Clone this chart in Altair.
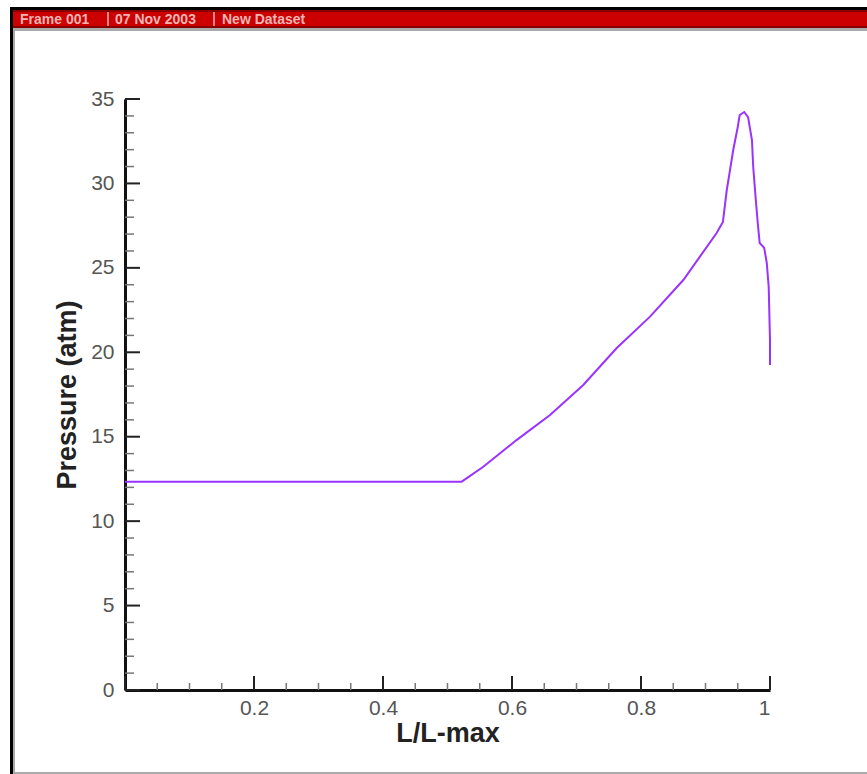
import altair as alt
import pandas as pd

# Pressure profile
x_vals = [0.0, 0.1, 0.2, 0.3, 0.4, 0.5, 0.522, 0.5555, 0.607, 0.659, 0.7105, 0.762, 0.814, 0.8656, 0.917, 0.927,
          0.933, 0.938, 0.943, 0.950, 0.953, 0.960, 0.966, 0.972, 0.974, 0.978, 0.981, 0.984,
          0.991, 0.995, 0.998, 1.0, 1.0]
p_vals = [12.34, 12.34, 12.34, 12.34, 12.34, 12.34, 12.34, 13.22, 14.80, 16.29, 18.06, 20.24, 22.11, 24.28, 27.05, 27.72,
          29.61, 30.79, 31.98, 33.34, 34.05, 34.23, 33.93, 32.57, 30.97, 29.02, 27.66, 26.47,
          26.18, 25.29, 23.87, 20.73, 19.25]

x_major = [0.0, 0.2, 0.4, 0.6, 0.8, 1.0]
x_minor = [0.05, 0.1, 0.15, 0.25, 0.3, 0.35, 0.45, 0.5, 0.55, 0.65, 0.7, 0.75, 0.85, 0.9, 0.95]
y_major = [0, 5, 10, 15, 20, 25, 30, 35]
y_minor = [v for v in range(0, 36) if v % 5 != 0]
x_labels = [0.2, 0.4, 0.6, 0.8, 1.0]
header_parts = ["Frame 001", "07 Nov 2003", "New Dataset"]
header_x = [20, 115, 222]
header_bars = [107, 213]

W, H = 645, 591

df = pd.DataFrame({"x": x_vals, "p": p_vals, "order": list(range(len(x_vals)))})
xs = alt.Scale(domain=[0, 1], nice=False, zero=False)
ys = alt.Scale(domain=[0, 35], nice=False)

FONT = "Liberation Sans"

line = alt.Chart(df).mark_line(color="#9933ff", strokeWidth=2).encode(
    x=alt.X("x:Q", scale=xs, title="L/L-max",
            axis=alt.Axis(values=x_labels, format="~g", ticks=False, grid=False,
                          domainColor="#111", domainWidth=3, labelColor="#555",
                          labelFontSize=21, labelFont=FONT, labelPadding=7,
                          titleFont=FONT, titleFontSize=27, titleFontWeight="bold",
                          titleColor="#222", titlePadding=2)),
    y=alt.Y("p:Q", scale=ys, title="Pressure (atm)",
            axis=alt.Axis(values=y_major, ticks=False, grid=False,
                          domainColor="#111", domainWidth=3, labelColor="#555",
                          labelFontSize=21, labelFont=FONT, labelPadding=11,
                          titleFont=FONT, titleFontSize=27, titleFontWeight="bold",
                          titleColor="#222", titlePadding=9)),
    order="order:Q",
)

def xticks(vals, length, width, color):
    return alt.Chart(pd.DataFrame({"x": vals})).mark_rule(color=color, strokeWidth=width).encode(
        x=alt.X("x:Q", scale=xs), y=alt.value(H), y2=alt.value(H - length))

def yticks(vals, length, width, color):
    return alt.Chart(pd.DataFrame({"y": vals})).mark_rule(color=color, strokeWidth=width).encode(
        y=alt.Y("y:Q", scale=ys), x=alt.value(0), x2=alt.value(length))

dummy = pd.DataFrame({"a": [0]})
L, T = 125, 99
FW, FH = 867, 774

def rect(x0, y0, x1, y1, color):
    return alt.Chart(dummy).mark_rect(color=color).encode(
        x=alt.value(x0 - L), x2=alt.value(x1 - L), y=alt.value(y0 - T), y2=alt.value(y1 - T))

decor = [
    rect(10, 7, FW, 10, "#000000"),
    rect(10, 7, 13, FH, "#000000"),
    rect(13, 10, FW, 12, "#8a0000"),
    rect(13, 12, FW, 26, "#cc0000"),
    rect(13, 26, FW, 28, "#8a0000"),
    rect(13, 28, FW, 31, "#aaaaaa"),
    rect(13, 31, 15, FH, "#aaaaaa"),
    rect(13, FH - 2, FW, FH, "#aaaaaa"),
]
for bx in header_bars:
    decor.append(rect(bx, 12, bx + 2, 26, "#e08888"))

hdr = alt.Chart(pd.DataFrame({"t": header_parts, "px": [v - L for v in header_x]})).mark_text(
    color="#f0b4b4", fontSize=14, fontWeight="bold", font=FONT, align="left", baseline="middle"
).encode(x=alt.X("px:Q", scale=None), y=alt.value(19.5 - T), text="t:N")

chart = alt.layer(
    *decor, hdr,
    xticks(x_major, 14, 2, "#222"), xticks(x_minor, 7, 1.5, "#777"),
    yticks(y_major, 15, 2, "#222"), yticks(y_minor, 9, 1.5, "#777"),
    line,
).properties(
    width=W, height=H,
    autosize=alt.AutoSizeParams(type="none"),
    padding={"left": L, "top": T, "right": FW - L - W, "bottom": FH - T - H},
    background="white",
).configure_view(stroke=None)

chart.save("out.html", embed_options={"renderer": "svg", "actions": False})
